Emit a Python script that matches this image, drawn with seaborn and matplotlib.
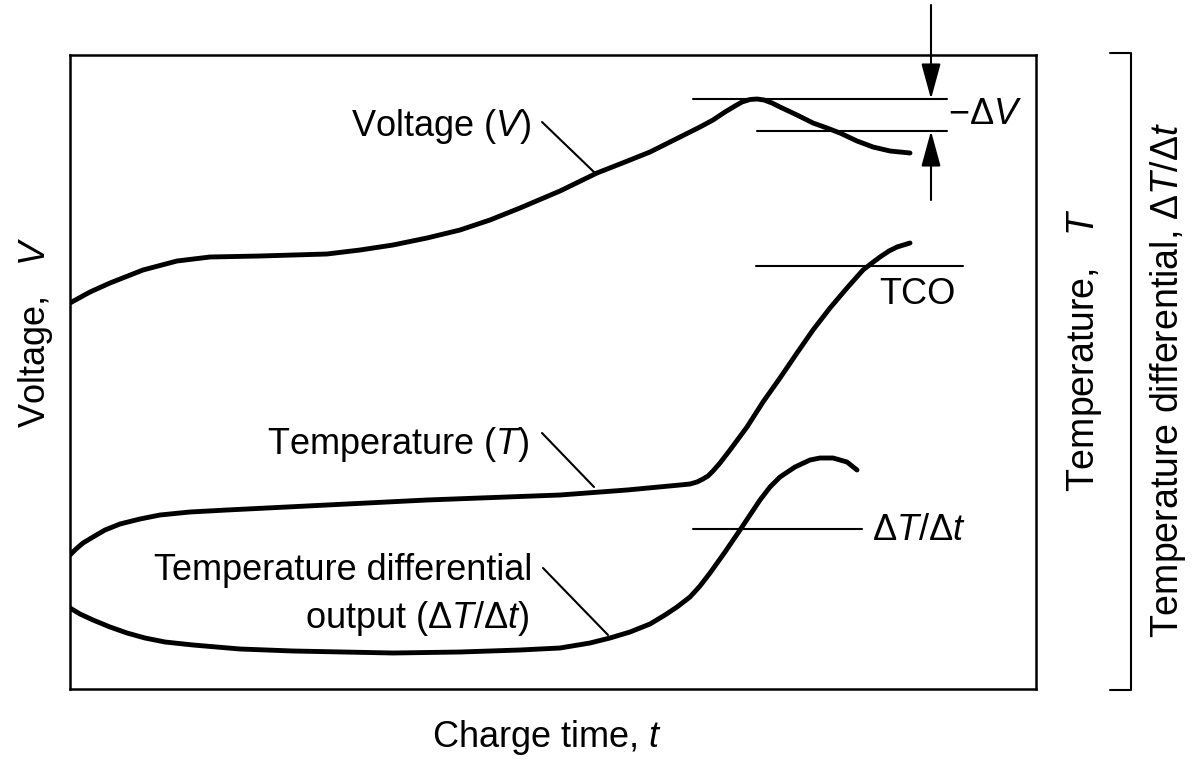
import matplotlib
matplotlib.use("Agg")
import matplotlib.pyplot as plt
import seaborn as sns
import pandas as pd

# ---- data (arbitrary units: charge time 0-966, signal 0-634) ----
voltage_t = [0, 20, 40, 73, 107, 140, 190, 257, 290, 323, 357, 390, 420, 450,
             490, 527, 555, 580, 610, 630, 643, 655, 665, 672, 680, 687, 694,
             702, 710, 727, 743, 757, 770, 787, 803, 820, 840]
voltage_v = [386, 397, 406, 419, 428, 432, 433, 435, 439, 444, 451, 459, 469, 481,
             498, 516, 527, 537, 552, 562, 569, 577, 583, 587, 589.5, 590, 589,
             586, 582, 574, 566, 561, 556, 548, 542, 538, 536]

temp_t = [0, 6, 13, 23, 35, 50, 70, 90, 120, 157, 257, 357, 490, 557, 610, 620,
          627, 633, 638, 643, 650, 660, 677, 693, 710, 727, 743, 760, 777, 785,
          793, 802, 810, 819, 827, 840]
temp_v = [134, 140, 146, 152, 159, 165, 170, 174, 177, 179, 184, 189, 194, 199,
          204, 205, 207, 210, 213, 218, 226, 239, 262, 287, 311, 336, 359, 381,
          401, 410, 419, 426, 432, 438, 442, 446]

dtdt_t = [0, 10, 23, 40, 57, 75, 95, 123, 170, 223, 323, 390, 450, 490, 520, 540,
          560, 580, 595, 607, 620, 630, 640, 655, 670, 680, 690, 700, 710, 725,
          740, 750, 763, 777, 787]
dtdt_v = [81, 75, 69, 62, 56, 51, 47, 44, 40, 38, 36, 37, 39, 41, 46, 51,
          57, 65, 74, 82, 92, 103, 116, 137, 159, 174, 189, 202, 212, 222,
          229, 231, 231, 227, 219]

dv_levels = [590, 558]      # -dV peak and drop levels
tco_level = 423             # temperature cut-off level
dtdt_level = 160            # dT/dt trigger level

# ---- style ----
sns.set_theme(style="white")
plt.rcParams['font.family'] = ['Liberation Sans', 'DejaVu Sans']
plt.rcParams['mathtext.fontset'] = 'custom'
plt.rcParams['mathtext.rm'] = 'Liberation Sans'
plt.rcParams['mathtext.it'] = 'Liberation Sans:italic'
plt.rcParams['mathtext.bf'] = 'Liberation Sans:bold'
plt.rcParams['text.color'] = 'black'
plt.rcParams['axes.labelcolor'] = 'black'

FS = 26
fig = plt.figure(figsize=(11.95, 7.6), dpi=100)
ax = fig.add_axes([70 / 1195, 71 / 760, 966 / 1195, 634 / 760])

df_v = pd.DataFrame({"t": voltage_t, "y": voltage_v})
df_T = pd.DataFrame({"t": temp_t, "y": temp_v})
df_d = pd.DataFrame({"t": dtdt_t, "y": dtdt_v})
for d in (df_v, df_T, df_d):
    sns.lineplot(data=d, x="t", y="y", ax=ax, color="black", lw=3.5,
                 sort=False, estimator=None, solid_capstyle="round",
                 solid_joinstyle="round")

ax.set_xlim(0, 966)
ax.set_ylim(0, 634)
ax.set_xticks([])
ax.set_yticks([])
for s in ax.spines.values():
    s.set_color("black")
    s.set_linewidth(1.8)

# reference levels
thin = dict(color="black", lw=1.5)
ax.plot([623, 877], [dv_levels[0]] * 2, **thin)
ax.plot([687, 877], [dv_levels[1]] * 2, **thin)
ax.plot([686, 893], [tco_level] * 2, **thin)
ax.plot([623, 792], [dtdt_level] * 2, **thin)

# -dV arrows
ap = dict(arrowstyle="-|>,head_length=1.1,head_width=0.3", color="black",
          lw=1.5, shrinkA=0, shrinkB=0, mutation_scale=20)
ax.annotate("", xy=(861, dv_levels[0]), xytext=(861, 684),
            arrowprops=ap, annotation_clip=False)
ax.annotate("", xy=(861, dv_levels[1]), xytext=(861, 489),
            arrowprops=ap, annotation_clip=False)

# labels on curves
ax.text(878, 574, "\u2212\u0394$V$", fontsize=FS, ha="left", va="center")
ax.text(847, 394, "TCO", fontsize=FS, ha="center", va="center")
ax.text(802, 159, "\u0394$T$/\u0394$t$", fontsize=FS, ha="left", va="center")

ax.text(462, 563, "Voltage ($V$)", fontsize=FS, ha="right", va="center")
ax.plot([472, 525], [567, 516], **thin)
ax.text(460, 245, "Temperature ($T$)", fontsize=FS, ha="right", va="center")
ax.plot([472, 524], [256, 202], **thin)
ax.text(462, 118, "Temperature differential", fontsize=FS, ha="right", va="center")
ax.text(460, 71, "output (\u0394$T$/\u0394$t$)", fontsize=FS, ha="right", va="center")
ax.plot([473, 538], [121, 54], **thin)

# axis labels
ax.set_xlabel("Charge time, $t$", fontsize=FS, va="center")
ax.xaxis.set_label_coords(0.494, -0.077)
ax.set_ylabel("Voltage,   $V$", fontsize=FS, va="center", ha="center")
ax.yaxis.set_label_coords(-0.036, 0.562)

# right-hand bracket and labels
ax.plot([1040, 1061, 1061, 1040], [636, 636, -1, -1],
        color="black", lw=1.5, clip_on=False)
fig.text(1085 / 1195, 1 - 350 / 760, "Temperature,   $T$", fontsize=FS + 1,
         rotation=90, ha="center", va="center")
fig.text(1168 / 1195, 1 - 380 / 760, "Temperature differential, \u0394$T$/\u0394$t$",
         fontsize=FS + 1, rotation=90, ha="center", va="center")

fig.savefig("out.png", dpi=100, facecolor="white")
